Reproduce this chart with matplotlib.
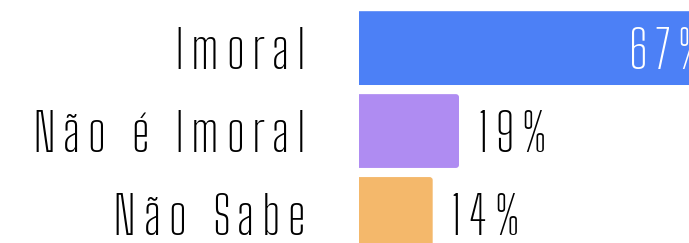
import matplotlib
matplotlib.use("Agg")
import matplotlib.pyplot as plt
from matplotlib import font_manager as fm
from matplotlib.patches import FancyBboxPatch
from matplotlib.textpath import TextPath
from matplotlib.transforms import ScaledTranslation
from matplotlib.ft2font import FT2Font, LoadFlags

# data
categories = ["Imoral", "Não é Imoral", "Não Sabe"]
values = [67, 19, 14]
colors = ["#4C80F6", "#AF8CF2", "#F4B86B"]
value_colors = ["white", "black", "black"]

fp = fm.FontProperties(family="Big Shoulders Text", weight="normal")
font = FT2Font(fm.findfont(fp))

DPI = 100
fig = plt.figure(figsize=(6.89, 2.43), dpi=DPI)
ax = fig.add_axes([359 / 689, 0, 1 - 359 / 689, 1])
ax.set_xlim(0, 62.7)
ax.set_ylim(2.35, -0.58)
ax.axis("off")

# font size from the cap height (px) seen in the chart
cap_per_pt = TextPath((0, 0), "H", size=100, prop=fp).get_extents().height / 100
SIZE = (42 * 72 / DPI) / cap_per_pt


def advances(s):
    font.set_size(SIZE, 72)
    out = []
    for c in s:
        g = font.load_char(ord(c), flags=LoadFlags.NO_HINTING)
        out.append(g.linearHoriAdvance / 65536)
    return out


# letter spacing: widest label spans about 273 px
_w = advances(categories[1])
TRACK = (273 * 72 / DPI - sum(_w)) / (len(_w) - 1)


def tracked(x, y, s, ha, color, dx_pt=0):
    adv = advances(s)
    total = sum(adv) + TRACK * (len(s) - 1)
    pos = dx_pt - (total if ha == "right" else 0)
    base = -SIZE * cap_per_pt / 2
    for c, a in zip(s, adv):
        tr = ax.transData + ScaledTranslation(pos / 72, base / 72, fig.dpi_scale_trans)
        ax.text(x, y, c, transform=tr, fontproperties=fp, size=SIZE, color=color,
                ha="left", va="baseline", clip_on=False)
        pos += a + TRACK


bars = ax.barh(range(len(categories)), values, height=0.89, color=colors)
for b in list(bars):
    x, y, w, h = b.get_x(), b.get_y(), b.get_width(), b.get_height()
    b.remove()
    # extend left so only the right corners show rounded
    ax.add_patch(FancyBboxPatch((x - 1, y), w + 1, h, boxstyle="round,pad=0,rounding_size=0.6",
                                mutation_aspect=0.06, facecolor=b.get_facecolor(), edgecolor="none"))

for i, (cat, v) in enumerate(zip(categories, values)):
    tracked(0, i, cat, "right", "black", dx_pt=-54 * 72 / DPI)
    if v > 40:
        tracked(v, i, f"{v}%", "right", value_colors[i], dx_pt=-10 * 72 / DPI)
    else:
        tracked(v, i, f"{v}%", "left", value_colors[i], dx_pt=18 * 72 / DPI)

fig.savefig("out.png", dpi=DPI)
